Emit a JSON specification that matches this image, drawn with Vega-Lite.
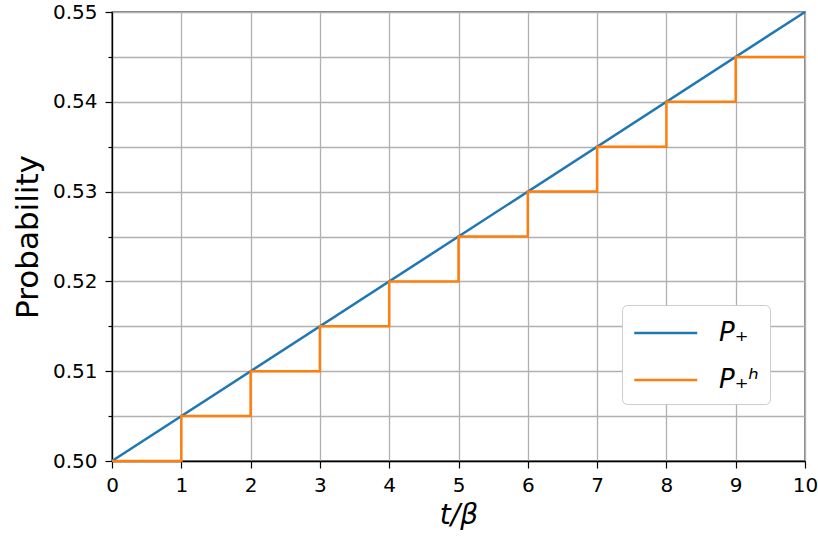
{
  "$schema": "https://vega.github.io/schema/vega-lite/v6.json",
  "width": 693,
  "height": 449,
  "autosize": {"type": "none"},
  "padding": {"left": 112, "top": 12, "right": 13, "bottom": 77},
  "background": "white",
  "config": {
    "font": "DejaVu Sans",
    "view": {"stroke": "black", "strokeWidth": 1.3}
  },
  "datasets": {
    "cont": [
      {"t": 0, "p": 0.5, "series": "P₊"},
      {"t": 10, "p": 0.55, "series": "P₊"}
    ],
    "step": [
      {"t": 0, "p": 0.5, "series": "P₊ʰ"},
      {"t": 1, "p": 0.505, "series": "P₊ʰ"},
      {"t": 2, "p": 0.51, "series": "P₊ʰ"},
      {"t": 3, "p": 0.515, "series": "P₊ʰ"},
      {"t": 4, "p": 0.52, "series": "P₊ʰ"},
      {"t": 5, "p": 0.525, "series": "P₊ʰ"},
      {"t": 6, "p": 0.53, "series": "P₊ʰ"},
      {"t": 7, "p": 0.535, "series": "P₊ʰ"},
      {"t": 8, "p": 0.54, "series": "P₊ʰ"},
      {"t": 9, "p": 0.545, "series": "P₊ʰ"},
      {"t": 10, "p": 0.545, "series": "P₊ʰ"}
    ]
  },
  "encoding": {
    "x": {
      "field": "t",
      "type": "quantitative",
      "scale": {"domain": [0, 10], "nice": false, "zero": false},
      "axis": {
        "values": [0, 1, 2, 3, 4, 5, 6, 7, 8, 9, 10],
        "title": "t/β",
        "titleFontStyle": "italic",
        "titleFontWeight": "normal",
        "titleFontSize": 28,
        "titleColor": "black",
        "titlePadding": 6,
        "labelFontSize": 20,
        "labelColor": "black",
        "labelPadding": 7,
        "labelFlush": false,
        "tickSize": 7,
        "tickColor": "black",
        "tickWidth": 1.2,
        "domainColor": "black",
        "domainWidth": 1.3,
        "grid": true,
        "gridColor": "#b0b0b0",
        "gridWidth": 1.3
      }
    },
    "y": {
      "field": "p",
      "type": "quantitative",
      "scale": {"domain": [0.5, 0.55], "nice": false, "zero": false},
      "axis": {
        "values": [0.5, 0.505, 0.51, 0.515, 0.52, 0.525, 0.53, 0.535, 0.54, 0.545, 0.55],
        "labelExpr": "round(datum.value*1000)%10==0 ? format(datum.value, '.2f') : ''",
        "labelOverlap": false,
        "labelFlush": false,
        "title": "Probability",
        "titleFontWeight": "normal",
        "titleFontSize": 31,
        "titleColor": "black",
        "titlePadding": 8,
        "labelFontSize": 20,
        "labelColor": "black",
        "labelPadding": 8,
        "tickSize": {"condition": {"test": "round(datum.value*1000)%10==0", "value": 7}, "value": 4},
        "tickColor": "black",
        "tickWidth": 1.2,
        "domainColor": "black",
        "domainWidth": 1.3,
        "grid": true,
        "gridColor": "#b0b0b0",
        "gridWidth": 1.3
      }
    },
    "color": {
      "field": "series",
      "type": "nominal",
      "scale": {"domain": ["P₊", "P₊ʰ"], "range": ["#1f77b4", "#ff7f0e"]},
      "legend": {
        "orient": "none",
        "legendX": 510,
        "legendY": 293,
        "title": null,
        "padding": 11,
        "strokeColor": "#cccccc",
        "fillColor": "white",
        "cornerRadius": 5,
        "symbolType": "M-1,0H3",
        "symbolSize": 992,
        "symbolStrokeWidth": 2.5,
        "labelFontSize": 26,
        "labelFontStyle": "italic",
        "labelColor": "black",
        "labelOffset": 52,
        "rowPadding": 17
      }
    }
  },
  "layer": [
    {
      "data": {"name": "cont"},
      "mark": {"type": "line", "strokeWidth": 2.5}
    },
    {
      "data": {"name": "step"},
      "mark": {"type": "line", "interpolate": "step-after", "strokeWidth": 2.5}
    }
  ]
}
